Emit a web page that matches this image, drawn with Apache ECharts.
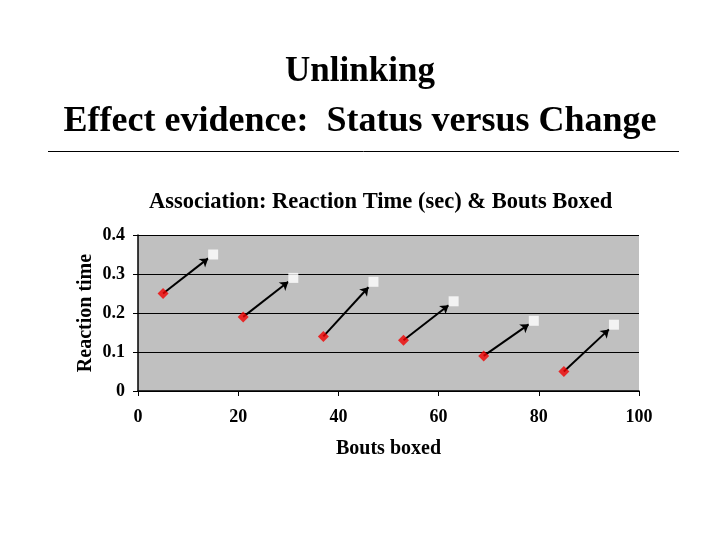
<!DOCTYPE html>
<html>
<head>
<meta charset="utf-8">
<style>
  html, body { margin: 0; padding: 0; background: #fff; }
  #chart { width: 720px; height: 540px; }
</style>
<script src="https://cdn.jsdelivr.net/npm/echarts@6/dist/echarts.min.js"></script>
</head>
<body>
<div id="chart"></div>
<script>
// status (red diamonds) and change (white squares)
const statusX = [5, 21, 37, 53, 69, 85]
const statusY = [0.25, 0.19, 0.14, 0.13, 0.09, 0.05]
const changeX = [15, 31, 47, 63, 79, 95]
const changeY = [0.35, 0.29, 0.28, 0.23, 0.18, 0.17]

const serif = '"Liberation Serif", "Times New Roman", serif'

// arrows go from each status point toward its change point, stopping a bit short
const arrows = statusX.map((x, i) => {
  const dx = changeX[i] - x
  const dy = changeY[i] - statusY[i]
  return { coords: [[x, statusY[i]], [x + dx * 0.9, statusY[i] + dy * 0.9]] }
})

const chart = echarts.init(document.getElementById('chart'))
chart.setOption({
  animation: false,
  backgroundColor: '#fff',
  title: [
    {
      text: 'Unlinking',
      left: 'center',
      top: 49,
      textStyle: { fontFamily: serif, fontSize: 35, fontWeight: 'bold', color: '#000' }
    },
    {
      text: 'Effect evidence:  Status versus Change',
      left: 'center',
      top: 99,
      textStyle: { fontFamily: serif, fontSize: 36, fontWeight: 'bold', color: '#000' }
    },
    {
      text: 'Association: Reaction Time (sec) & Bouts Boxed',
      left: 144,
      top: 186,
      textStyle: { fontFamily: serif, fontSize: 22.5, fontWeight: 'bold', color: '#000' }
    }
  ],
  graphic: [{
    type: 'line',
    shape: { x1: 48, y1: 151.5, x2: 679, y2: 151.5 },
    style: { stroke: '#000', lineWidth: 1 }
  }],
  grid: {
    left: 138,
    right: 81,
    top: 235,
    bottom: 149,
    show: true,
    backgroundColor: '#c0c0c0',
    borderWidth: 0
  },
  xAxis: {
    type: 'value',
    min: 0,
    max: 100,
    interval: 20,
    name: 'Bouts boxed',
    nameLocation: 'middle',
    nameGap: 48,
    nameTextStyle: { fontFamily: serif, fontSize: 20, fontWeight: 'bold', color: '#000' },
    axisLine: { lineStyle: { color: '#000', width: 1.5 } },
    axisTick: { show: true, length: 5, lineStyle: { color: '#000' } },
    axisLabel: { fontFamily: serif, fontSize: 18, fontWeight: 'bold', color: '#000', margin: 17 },
    splitLine: { show: false }
  },
  yAxis: {
    type: 'value',
    min: 0,
    max: 0.4,
    interval: 0.1,
    name: 'Reaction time',
    nameLocation: 'middle',
    nameGap: 42,
    nameMoveOverlap: false,
    nameTextStyle: { fontFamily: serif, fontSize: 20, fontWeight: 'bold', color: '#000' },
    axisLine: { show: true, lineStyle: { color: '#000', width: 1.5 } },
    axisTick: { show: true, length: 5, lineStyle: { color: '#000' } },
    axisLabel: { fontFamily: serif, fontSize: 18, fontWeight: 'bold', color: '#000', margin: 13 },
    splitLine: { show: true, lineStyle: { color: '#000', width: 1 } }
  },
  series: [
    {
      type: 'lines',
      coordinateSystem: 'cartesian2d',
      data: arrows,
      symbol: ['none', 'arrow'],
      symbolSize: 8,
      lineStyle: { color: '#000', width: 2, opacity: 1 },
      z: 3
    },
    {
      type: 'scatter',
      data: statusX.map((x, i) => [x, statusY[i]]),
      symbol: 'diamond',
      symbolSize: 11,
      itemStyle: { color: '#f00000' },
      z: 4
    },
    {
      type: 'scatter',
      data: changeX.map((x, i) => [x, changeY[i]]),
      symbol: 'rect',
      symbolSize: 10,
      itemStyle: { color: '#ffffff' },
      z: 4
    }
  ]
})
</script>
</body>
</html>
